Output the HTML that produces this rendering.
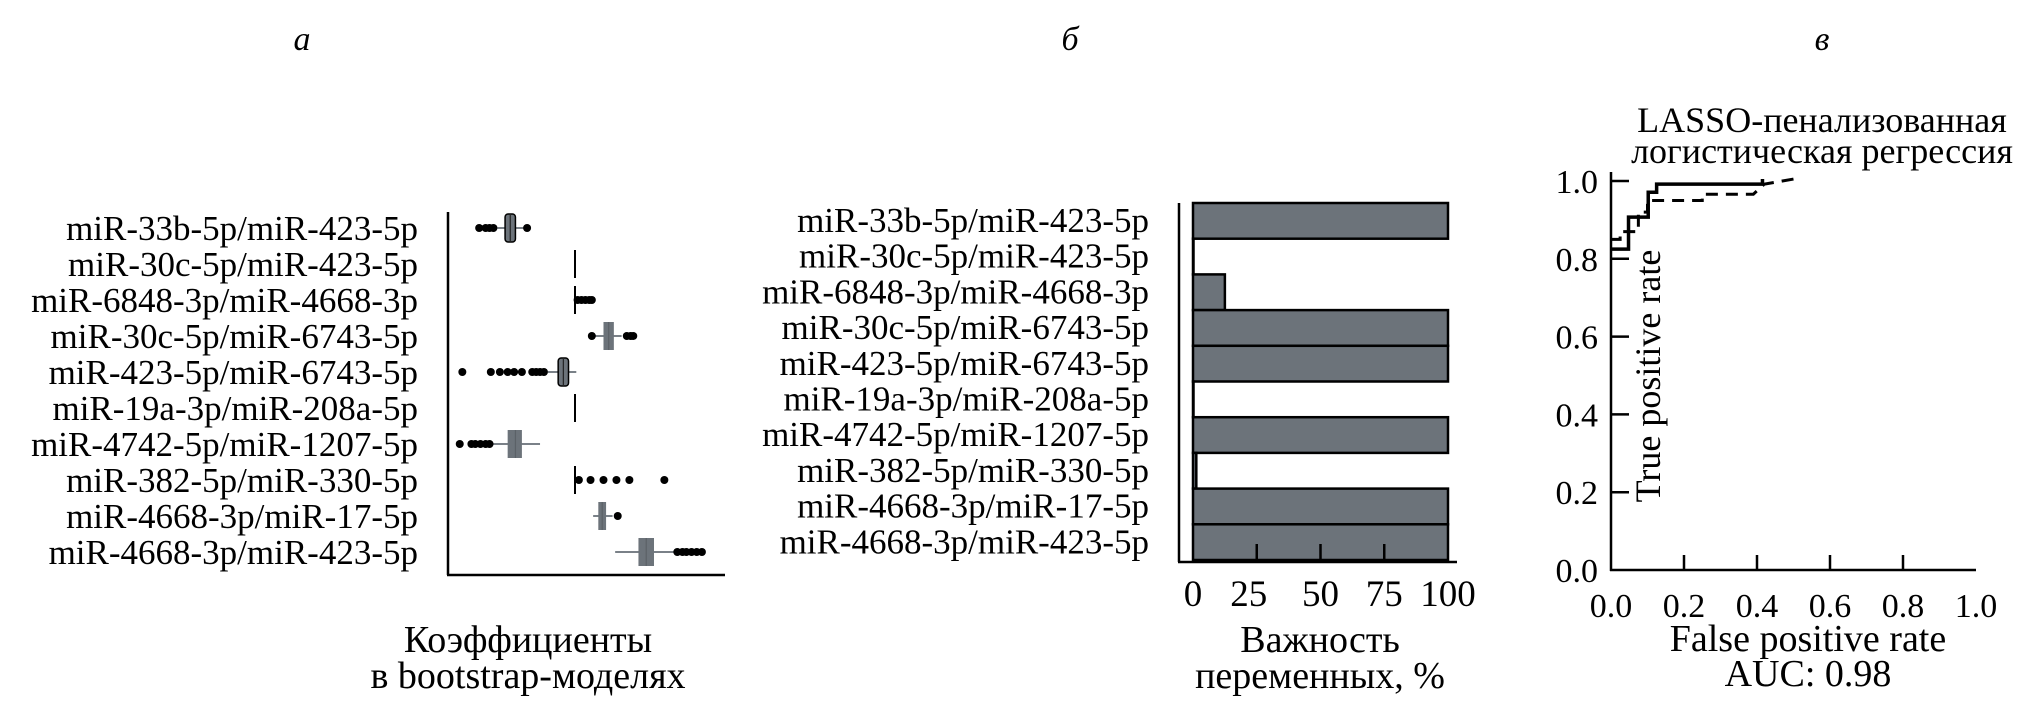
<!DOCTYPE html>
<html><head><meta charset="utf-8"><style>
html,body{margin:0;padding:0;background:#fff;}
svg{display:block;font-family:"Liberation Serif","DejaVu Serif",serif;}
</style></head><body>
<svg id="c" width="2031" height="707" viewBox="0 0 2031 707" xmlns="http://www.w3.org/2000/svg"></svg>
<script>
const NS='http://www.w3.org/2000/svg';
const svg=document.getElementById('c');
function mk(tag,attrs,parent,txt){const e=document.createElementNS(NS,tag);for(const k in attrs)e.setAttribute(k,attrs[k]);if(txt!==undefined)e.textContent=txt;(parent||svg).appendChild(e);return e;}

// ---------- data ----------
const labelsA=["miR-33b-5p/miR-423-5p","miR-30c-5p/miR-423-5p","miR-6848-3p/miR-4668-3p","miR-30c-5p/miR-6743-5p","miR-423-5p/miR-6743-5p","miR-19a-3p/miR-208a-5p","miR-4742-5p/miR-1207-5p","miR-382-5p/miR-330-5p","miR-4668-3p/miR-17-5p","miR-4668-3p/miR-423-5p"];
const boxQ1=[-0.54,0,0,0.22,-0.13,0,-0.52,0,0.18,0.49];
const boxMed=[-0.50,0,0,0.26,-0.09,0,-0.46,0,0.21,0.55];
const boxQ3=[-0.46,0,0,0.30,-0.05,0,-0.41,0,0.24,0.61];
const whiskLo=[-0.60,0,0,0.14,-0.21,0,-0.64,0,0.14,0.31];
const whiskHi=[-0.38,0,0,0.36,0.01,0,-0.27,0,0.29,0.77];
const outliers=[[-0.74,-0.69,-0.66,-0.63,-0.37],[],[0.02,0.05,0.08,0.11,0.13],[0.13,0.40,0.43,0.45],[-0.87,-0.65,-0.58,-0.52,-0.47,-0.41,-0.33,-0.30,-0.27,-0.24],[],[-0.89,-0.80,-0.77,-0.73,-0.69,-0.66],[0.03,0.12,0.22,0.32,0.42,0.69],[0.33],[0.79,0.83,0.86,0.90,0.94,0.98]];
const outlinedBox=[true,false,false,false,true,false,false,false,false,false];

const importance=[100,0,12.5,100,100,0,100,1.3,100,100];
const ticksB=[0,25,50,75,100];

const rocSolidX=[0,0.048,0.048,0.102,0.102,0.125,0.125,0.415,0.415];
const rocSolidY=[0.825,0.825,0.907,0.907,0.971,0.971,0.992,0.992,1.005];
const rocDashX=[0,0.025,0.025,0.075,0.075,0.10,0.10,0.25,0.25,0.39,0.42,0.5];
const rocDashY=[0.85,0.85,0.87,0.87,0.92,0.92,0.95,0.95,0.966,0.966,0.992,1.005];
const ticksC=[0,0.2,0.4,0.6,0.8,1.0];

const ink='#000', gray='#6c737a';

// ---------- panel labels ----------
[["а",302],["б",1070],["в",1822]].forEach(([t,x],i)=>{
 const e=mk('text',{x:x,y:50,'font-size':34,'font-style':'italic','text-anchor':'middle'},svg,t);
 
 
});

// ---------- panel A ----------
const gA=mk('g',{});

const rowY=i=>228+i*36;
const xA=v=>575+v*129.5;
let ax=mk('line',{x1:448,y1:212,x2:448,y2:575,stroke:ink,'stroke-width':2.5},gA);

ax=mk('line',{x1:447,y1:575,x2:725,y2:575,stroke:ink,'stroke-width':2.5},gA);

labelsA.forEach((l,i)=>{
 const t=mk('text',{x:418,y:rowY(i)+12,'font-size':35,'text-anchor':'end'},gA,l);
 
 const y=rowY(i);
 const g=mk('g',{},gA);
 
 if(boxQ3[i]-boxQ1[i]<=0.001){
  mk('line',{x1:xA(boxMed[i]),x2:xA(boxMed[i]),y1:y-14,y2:y+14,stroke:ink,'stroke-width':2},g);
 }else{
  mk('line',{x1:xA(whiskLo[i]),x2:xA(whiskHi[i]),y1:y,y2:y,stroke:'#7a8188','stroke-width':2},g);
  mk('rect',{x:xA(boxQ1[i]),y:y-14,width:xA(boxQ3[i])-xA(boxQ1[i]),height:28,rx:outlinedBox[i]?3:0,fill:gray,stroke:outlinedBox[i]?ink:'none','stroke-width':1.5},g);
  mk('line',{x1:xA(boxMed[i]),x2:xA(boxMed[i]),y1:y-14,y2:y+14,stroke:outlinedBox[i]?'#222':'#5b6167','stroke-width':1.2},g);
 }
 outliers[i].forEach(v=>{
  const d=mk('circle',{cx:xA(v),cy:y,r:4,fill:ink},g);
  
 });
});
let t=mk('text',{x:528,y:652,'font-size':38,'text-anchor':'middle'},gA,'Коэффициенты');

t=mk('text',{x:528,y:688,'font-size':38,'text-anchor':'middle'},gA,'в bootstrap-моделях');


// ---------- panel B ----------
const gB=mk('g',{});

const xB=v=>1193+v*2.55;
const rowB=i=>203+i*35.7;
labelsA.forEach((l,i)=>{
 const tl=mk('text',{x:1149,y:rowB(i)+29,'font-size':35,'text-anchor':'end'},gB,l);
 
 const r=mk('rect',{x:xB(0),y:rowB(i),width:Math.max(xB(importance[i])-xB(0),0.5),height:35.7,fill:gray,stroke:ink,'stroke-width':2.5},gB);
 
});
ax=mk('line',{x1:1179,y1:203,x2:1179,y2:562,stroke:ink,'stroke-width':2.5},gB);

ax=mk('line',{x1:1178,y1:562,x2:1457,y2:562,stroke:ink,'stroke-width':2.5},gB);

ticksB.forEach(v=>{
 if(v>0&&v<100)mk('line',{x1:xB(v),x2:xB(v),y1:544,y2:562,stroke:ink,'stroke-width':2.5},gB);
 const tk=mk('text',{x:xB(v)-(v===25?8:0),y:606,'font-size':37,'text-anchor':'middle'},gB,String(v));
 
});
t=mk('text',{x:1320,y:652,'font-size':38,'text-anchor':'middle'},gB,'Важность');

t=mk('text',{x:1320,y:688,'font-size':38,'text-anchor':'middle'},gB,'переменных, %');


// ---------- panel C ----------
const gC=mk('g',{});

const xC=v=>1611+v*365, yC=v=>570-v*389;
t=mk('text',{x:1822,y:132,'font-size':36,'text-anchor':'middle'},gC,'LASSO-пенализованная');

t=mk('text',{x:1822,y:163,'font-size':36,'text-anchor':'middle'},gC,'логистическая регрессия');

ax=mk('line',{x1:1611,y1:172,x2:1611,y2:571,stroke:ink,'stroke-width':2.5},gC);

ax=mk('line',{x1:1610,y1:570,x2:1976,y2:570,stroke:ink,'stroke-width':2.5},gC);

ticksC.forEach(v=>{
 if(v>0){mk('line',{x1:1611,x2:1629,y1:yC(v),y2:yC(v),stroke:ink,'stroke-width':2.5},gC);}
 if(v>0&&v<1){mk('line',{x1:xC(v),x2:xC(v),y1:555,y2:570,stroke:ink,'stroke-width':2.5},gC);}
 const a=mk('text',{x:1598,y:yC(v)+12,'font-size':34,'text-anchor':'end'},gC,v.toFixed(1));
 
 const b=mk('text',{x:xC(v),y:617,'font-size':34,'text-anchor':'middle'},gC,v.toFixed(1));
 
});
const pts=(xs,ys)=>xs.map((x,i)=>xC(x)+','+yC(ys[i])).join(' ');
let pl=mk('polyline',{points:pts(rocDashX,rocDashY),fill:'none',stroke:ink,'stroke-width':3,'stroke-dasharray':'12,8'},gC);

pl=mk('polyline',{points:pts(rocSolidX,rocSolidY),fill:'none',stroke:ink,'stroke-width':3.5},gC);

t=mk('text',{x:0,y:0,'font-size':36,'text-anchor':'middle',transform:'translate(1660,376) rotate(-90)'},gC,'True positive rate');

t=mk('text',{x:1808,y:651,'font-size':38,'text-anchor':'middle'},gC,'False positive rate');

t=mk('text',{x:1808,y:686,'font-size':38,'text-anchor':'middle'},gC,'AUC: 0.98');

</script>
</body></html>
